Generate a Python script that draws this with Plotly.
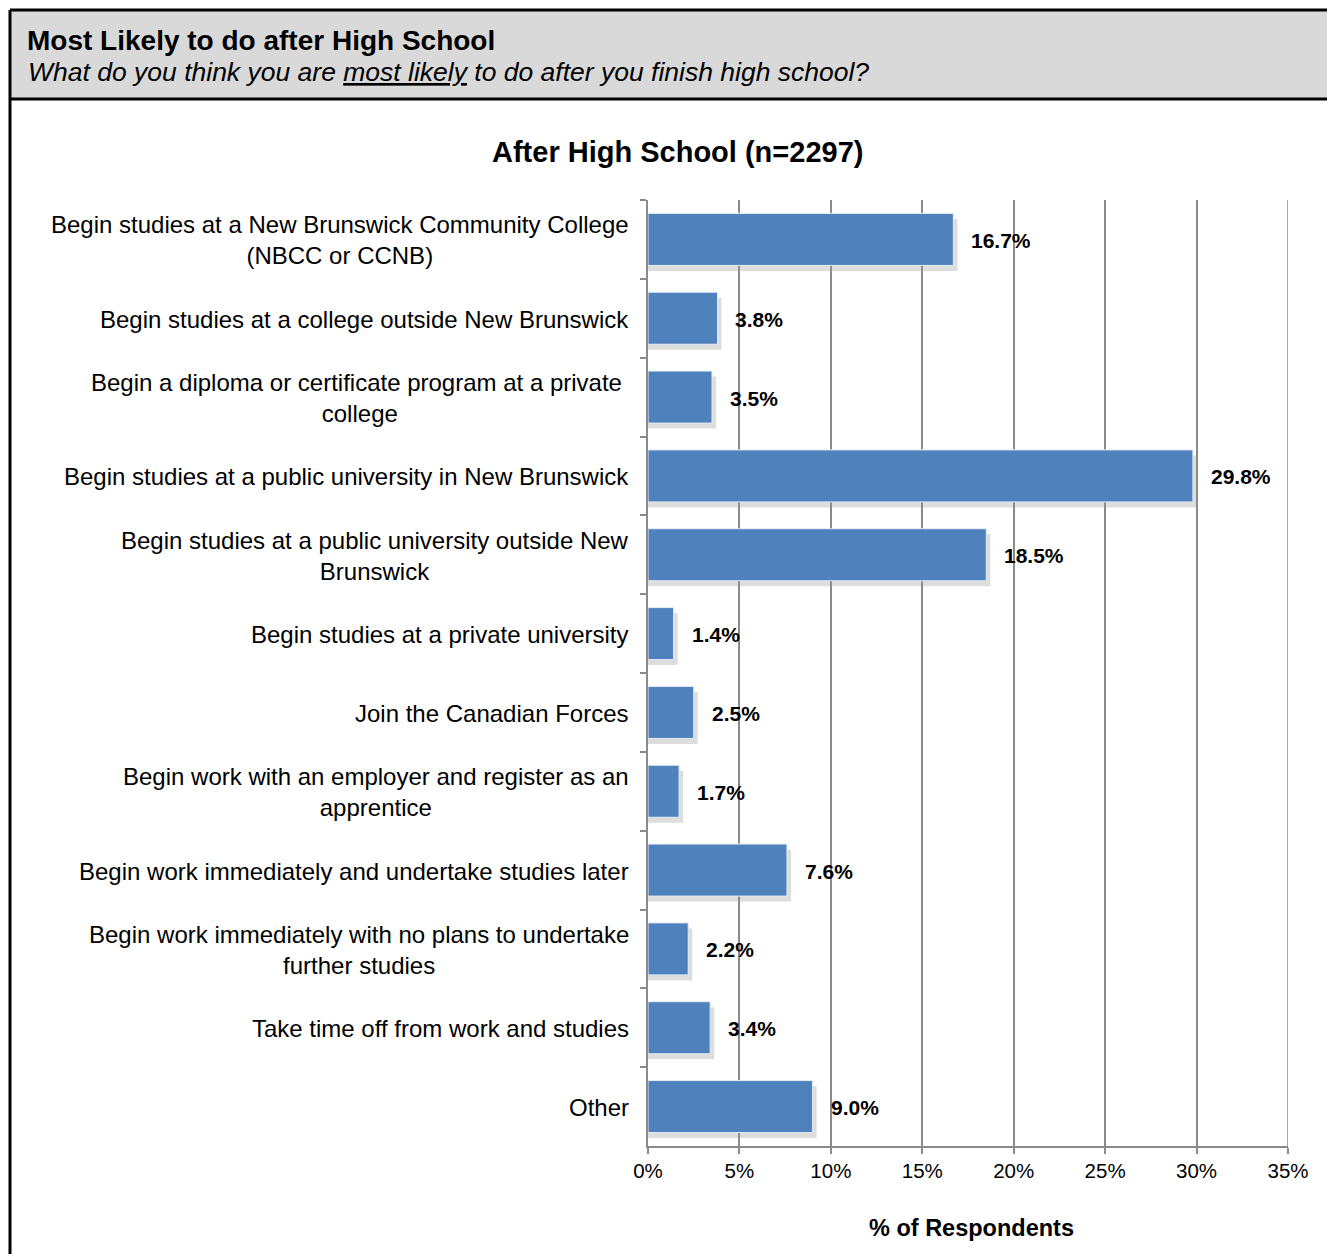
import plotly.graph_objects as go

categories = [
    "Begin studies at a New Brunswick Community College<br>(NBCC or CCNB)",
    "Begin studies at a college outside New Brunswick",
    "Begin a diploma or certificate program at a private <br>college",
    "Begin studies at a public university in New Brunswick",
    "Begin studies at a public university outside New<br>Brunswick",
    "Begin studies at a private university",
    "Join the Canadian Forces",
    "Begin work with an employer and register as an<br>apprentice",
    "Begin work immediately and undertake studies later",
    "Begin work immediately with no plans to undertake<br>further studies",
    "Take time off from work and studies",
    "Other",
]
values = [16.7, 3.8, 3.5, 29.8, 18.5, 1.4, 2.5, 1.7, 7.6, 2.2, 3.4, 9.0]
x_ticks = [0, 5, 10, 15, 20, 25, 30, 35]

FONT = "Liberation Sans, Arial, sans-serif"
W, H = 1327, 1254
PL, PR, PT, PB = 648, 1288, 200, 1146
GRID = "#8A8A8A"


def px(xp):
    return (xp - PL) / (PR - PL)


def py(yp):
    return (PB - yp) / (PB - PT)


fig = go.Figure()

# shadow
fig.add_trace(go.Bar(
    y=categories, x=[v + 0.22 for v in values], orientation="h",
    width=0.66, offset=-0.26,
    marker=dict(color="rgba(150,150,150,0.32)", line=dict(width=0)),
    hoverinfo="skip", showlegend=False,
))
# main bars
fig.add_trace(go.Bar(
    y=categories, x=values, orientation="h",
    width=0.66, offset=-0.33,
    marker=dict(color="#4F81BD", line=dict(color="#E6ECF4", width=1)),
    showlegend=False,
))

annotations = []
for c, v in zip(categories, values):
    annotations.append(dict(
        x=0, xref="paper", y=c, yref="y", xanchor="right", yanchor="middle",
        xshift=-17, yshift=-1, text=c, showarrow=False, align="center",
        font=dict(family=FONT, size=24, color="black"),
    ))
    annotations.append(dict(
        x=v, xref="x", y=c, yref="y", xanchor="left", yanchor="middle",
        xshift=16, yshift=-1, text=f"<b>{v:.1f}%</b>", showarrow=False,
        font=dict(family=FONT, size=21, color="black"),
    ))

annotations += [
    dict(x=px(25), y=py(40), xref="paper", yref="paper", xanchor="left", yanchor="middle",
         text="<b>Most Likely to do after High School</b>", showarrow=False,
         font=dict(family=FONT, size=28, color="black")),
    dict(x=px(26), y=py(72), xref="paper", yref="paper", xanchor="left", yanchor="middle",
         text="<i>What do you think you are <u>most likely</u> to do after you finish high school?</i>",
         showarrow=False, font=dict(family=FONT, size=26.5, color="black")),
    dict(x=px(677), y=py(152), xref="paper", yref="paper", xanchor="center", yanchor="middle",
         text="<b>After High School (n=2297)</b>", showarrow=False,
         font=dict(family=FONT, size=29, color="black")),
    dict(x=px(971), y=py(1228), xref="paper", yref="paper", xanchor="center", yanchor="middle",
         text="<b>% of Respondents</b>", showarrow=False,
         font=dict(family=FONT, size=23.5, color="black")),
]

shapes = [
    dict(type="rect", xref="paper", yref="paper", x0=px(10), x1=px(1340), y0=py(99), y1=py(10),
         fillcolor="#D9D9D9", line=dict(width=0), layer="below"),
    dict(type="line", xref="paper", yref="paper", x0=px(10), x1=px(1340), y0=py(10), y1=py(10),
         line=dict(color="black", width=3)),
    dict(type="line", xref="paper", yref="paper", x0=px(10), x1=px(1340), y0=py(99), y1=py(99),
         line=dict(color="black", width=3)),
    dict(type="line", xref="paper", yref="paper", x0=px(10), x1=px(10), y0=py(10), y1=py(1260),
         line=dict(color="black", width=3)),
    # gridline at the right edge of the value axis (plotly omits it)
    dict(type="line", xref="x", yref="paper", x0=x_ticks[-1], x1=x_ticks[-1], y0=0, y1=1,
         line=dict(color=GRID, width=1.5), layer="below"),
]

fig.update_layout(
    width=W, height=H,
    margin=dict(l=PL, r=W - PR, t=PT, b=H - PB, pad=0),
    paper_bgcolor="white", plot_bgcolor="white",
    barmode="overlay",
    showlegend=False,
    annotations=annotations,
    shapes=shapes,
    xaxis=dict(
        range=[0, 35], tickvals=x_ticks, ticktext=[f"{t}%" for t in x_ticks],
        showgrid=True, gridcolor=GRID, gridwidth=1.5,
        showline=True, linecolor=GRID, linewidth=1.5,
        ticks="outside", ticklen=6, tickcolor=GRID, tickwidth=1.5,
        zeroline=False,
        tickfont=dict(family=FONT, size=20.5, color="black"),
        fixedrange=True,
    ),
    yaxis=dict(
        type="category", categoryorder="array", categoryarray=categories,
        range=[len(categories) - 0.5, -0.5],
        showticklabels=False, showgrid=False,
        showline=True, linecolor=GRID, linewidth=1.5,
        ticks="outside", tickson="boundaries", ticklen=6, tickcolor=GRID, tickwidth=1.5,
        zeroline=False, fixedrange=True,
    ),
)

fig.write_html(
    "out.html",
    config={"displayModeBar": False},
    post_script="document.body.style.margin='0';document.body.style.overflow='hidden';",
)
